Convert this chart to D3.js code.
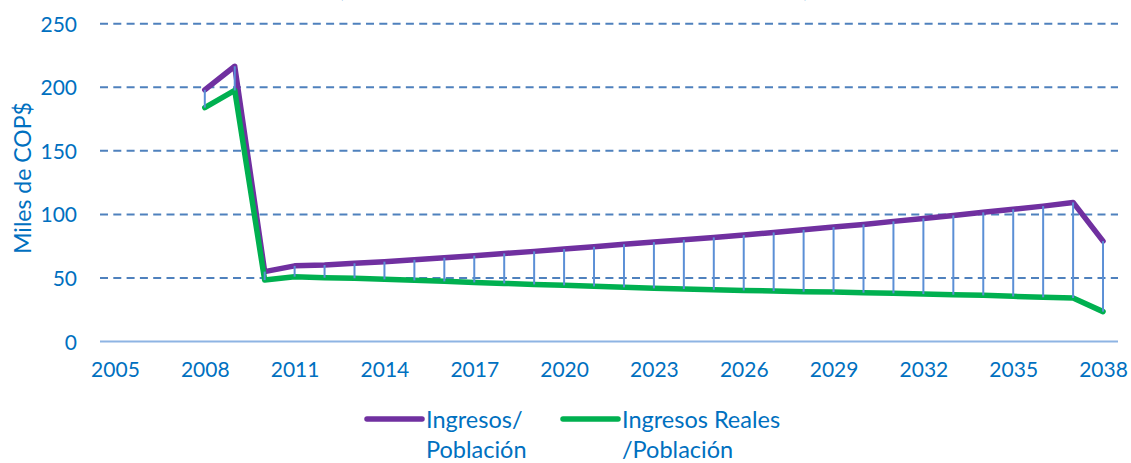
<!DOCTYPE html>
<html>
<head>
<meta charset="utf-8">
<script src="https://cdn.jsdelivr.net/npm/d3@7"></script>
<style>
  html, body { margin: 0; padding: 0; background: #fff; }
  svg { display: block; }
  text { font-family: Lato, "Open Sans", sans-serif; fill: #0070C0; }
</style>
</head>
<body>
<svg id="chart" width="1131" height="463"></svg>
<script>
const years = d3.range(2005, 2039);
const dataYears = d3.range(2008, 2039);
const ingresos = [198, 216.5, 55, 59.5, 60.2, 61.5, 62.8, 64.3, 65.9, 67.5, 69.3, 70.9, 72.7, 74.5, 76.5,
  78.2, 80, 81.9, 83.7, 85.8, 87.9, 90, 92.1, 94.5, 96.8, 99.2, 101.6, 104, 106.5, 109.4, 79];
const ingresosReales = [184, 197.5, 48.3, 51, 50.2, 49.7, 48.9, 48.1, 47.3, 46.5, 45.7, 44.9, 44.2, 43.4, 42.6,
  41.8, 41.3, 40.7, 40.2, 39.7, 39.2, 38.9, 38.4, 37.9, 37.3, 36.8, 36.3, 35.5, 34.8, 34.2, 23.5];
const yTicks = [0, 50, 100, 150, 200, 250];
const xTickLabels = d3.range(2005, 2039, 3);
const seriesNames = ["Ingresos/\nPoblación", "Ingresos Reales\n/Población"];
const colors = ["#7030A0", "#00B050"];

const svg = d3.select("#chart");
const x = d3.scalePoint().domain(years).range([100, 1118]).padding(0.5);
const y = d3.scaleLinear().domain([0, 250]).range([341.5, 23.7]);

// title remnant (cut off at top edge, as in the reference)
svg.append("text").attr("x", 341).attr("y", -4).attr("text-anchor", "middle")
  .style("font-size", "28px").style("font-weight", "bold").text("(");
svg.append("text").attr("x", 806).attr("y", -4).attr("text-anchor", "middle")
  .style("font-size", "28px").style("font-weight", "bold").text(")");

// gridlines
svg.append("g").selectAll("line").data(yTicks.filter(d => d > 0)).join("line")
  .attr("x1", 100).attr("x2", 1118)
  .attr("y1", d => y(d)).attr("y2", d => y(d))
  .attr("stroke", "#4F81BD").attr("stroke-width", 2).attr("stroke-dasharray", "8,5.3");

// x axis line
svg.append("line").attr("x1", 100).attr("x2", 1118).attr("y1", y(0)).attr("y2", y(0))
  .attr("stroke", "#8EB4E3").attr("stroke-width", 2);

// y tick labels
const yAxis = d3.axisLeft(y).tickValues(yTicks).tickSize(0).tickPadding(0);
const gy = svg.append("g").attr("transform", "translate(77,0)").call(yAxis);
gy.select(".domain").remove();
gy.selectAll("text").style("font-size", "21px").attr("fill", "#0070C0").attr("dy", "0.36em");

// x tick labels
const xAxis = d3.axisBottom(x).tickValues(xTickLabels).tickSize(0).tickPadding(0);
const gx = svg.append("g").attr("transform", "translate(0,362)").call(xAxis);
gx.select(".domain").remove();
gx.selectAll("text").style("font-size", "21px").attr("fill", "#0070C0").attr("dy", "0.7em");

// y axis title
svg.append("text").attr("transform", "translate(31,178) rotate(-90)")
  .attr("text-anchor", "middle").style("font-size", "23px").text("Miles de COP$");

// lines
const lineGen = d3.line().x((d, i) => x(dataYears[i])).y(d => y(d));
[ingresos, ingresosReales].forEach((s, k) => {
  svg.append("path").datum(s).attr("d", lineGen)
    .attr("fill", "none").attr("stroke", colors[k]).attr("stroke-width", 5.5)
    .attr("stroke-linejoin", "round").attr("stroke-linecap", "round");
});

// high-low lines
svg.append("g").selectAll("line").data(dataYears).join("line")
  .attr("x1", d => x(d)).attr("x2", d => x(d))
  .attr("y1", (d, i) => y(ingresos[i])).attr("y2", (d, i) => y(ingresosReales[i]))
  .attr("stroke", "#5B8FD6").attr("stroke-width", 2);

// legend
const legendX = [367, 563];
seriesNames.forEach((name, k) => {
  const g = svg.append("g");
  g.append("line").attr("x1", legendX[k]).attr("x2", legendX[k] + 55)
    .attr("y1", 419).attr("y2", 419)
    .attr("stroke", colors[k]).attr("stroke-width", 5.5).attr("stroke-linecap", "round");
  const lines = name.split("\n");
  lines.forEach((t, j) => {
    g.append("text").attr("x", legendX[k] + 59).attr("y", 428 + j * 30)
      .style("font-size", "23.5px").text(t);
  });
});
</script>
</body>
</html>
